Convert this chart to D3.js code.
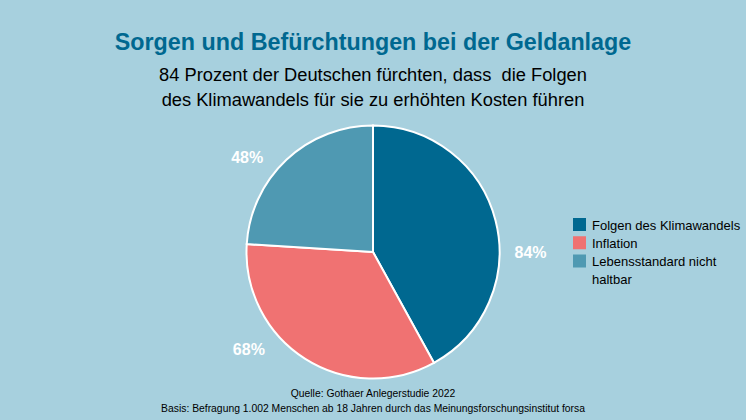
<!DOCTYPE html>
<html>
<head>
<meta charset="utf-8">
<script src="https://cdn.jsdelivr.net/npm/d3@7"></script>
<style>
  html, body { margin: 0; padding: 0; background: #a7d0de; }
  svg { display: block; font-family: "Liberation Sans", Arial, sans-serif; }
</style>
</head>
<body>
<svg id="chart" width="746" height="420"></svg>
<script>
const categories = ["Folgen des Klimawandels", "Inflation", "Lebensstandard nicht haltbar"];
const values = [84, 68, 48];
const colors = ["#006890", "#f07272", "#4f99b2"];
const titleText = "Sorgen und Befürchtungen bei der Geldanlage";
const subtitleLines = ["84 Prozent der Deutschen fürchten, dass\u00a0 die Folgen", "des Klimawandels für sie zu erhöhten Kosten führen"];
const sourceLines = ["Quelle: Gothaer Anlegerstudie 2022", "Basis: Befragung 1.002 Menschen ab 18 Jahren durch das Meinungsforschungsinstitut forsa"];
// direction of each value label around the pie, in degrees clockwise from top
const labelAngles = [90, 232, 307];

const svg = d3.select("#chart");

// ---------------- Titles ----------------
svg.append("text")
  .attr("x", 373).attr("y", 49.5)
  .attr("text-anchor", "middle")
  .attr("font-size", 23.3).attr("font-weight", "bold")
  .attr("fill", "#006890")
  .text(titleText);

svg.selectAll(".subtitle")
  .data(subtitleLines)
  .enter()
  .append("text")
  .attr("class", "subtitle")
  .attr("x", 373)
  .attr("y", (d, i) => 81 + i * 25)
  .attr("text-anchor", "middle")
  .attr("font-size", 18.3)
  .attr("fill", "#000")
  .text(d => d);

// ---------------- Pie ----------------
const cx = 373, cy = 252, radius = 126.5;

const pie = d3.pie().sort(null)(values);
const arc = d3.arc().innerRadius(0).outerRadius(radius);

const pieG = svg.append("g").attr("transform", `translate(${cx},${cy})`);

pieG.selectAll("path")
  .data(pie)
  .enter()
  .append("path")
  .attr("d", arc)
  .attr("fill", (d, i) => colors[i])
  .attr("stroke", "#fff")
  .attr("stroke-width", 2);

pieG.selectAll(".val")
  .data(pie)
  .enter()
  .append("text")
  .attr("class", "val")
  .attr("transform", (d, i) => `translate(${d3.pointRadial(labelAngles[i] * Math.PI / 180, radius + 31)})`)
  .attr("text-anchor", "middle")
  .attr("dy", "0.35em")
  .attr("font-size", 16)
  .attr("font-weight", "bold")
  .attr("fill", "#fff")
  .text(d => d.value + "%");

// ---------------- Legend ----------------
const legendY = d3.scalePoint().domain(categories).range([224.5, 261]);

const legend = svg.selectAll(".legend")
  .data(categories)
  .enter()
  .append("g")
  .attr("class", "legend");

legend.append("rect")
  .attr("x", 573)
  .attr("y", d => legendY(d) - 6.5)
  .attr("width", 13).attr("height", 13)
  .attr("fill", (d, i) => colors[i]);

legend.append("text")
  .attr("x", 592)
  .attr("y", d => legendY(d) + 5)
  .attr("font-size", 13)
  .attr("fill", "#000")
  .each(function (d) {
    const el = d3.select(this);
    const parts = d === categories[2] ? ["Lebensstandard nicht", "haltbar"] : [d];
    parts.forEach((p, i) => {
      el.append("tspan").attr("x", 592).attr("dy", i ? 18 : 0).text(p);
    });
  });

// ---------------- Source ----------------
svg.selectAll(".source")
  .data(sourceLines)
  .enter()
  .append("text")
  .attr("class", "source")
  .attr("x", 373)
  .attr("y", (d, i) => 397 + i * 15)
  .attr("text-anchor", "middle")
  .attr("font-size", 10.35)
  .attr("fill", "#000")
  .text(d => d);
</script>
</body>
</html>
